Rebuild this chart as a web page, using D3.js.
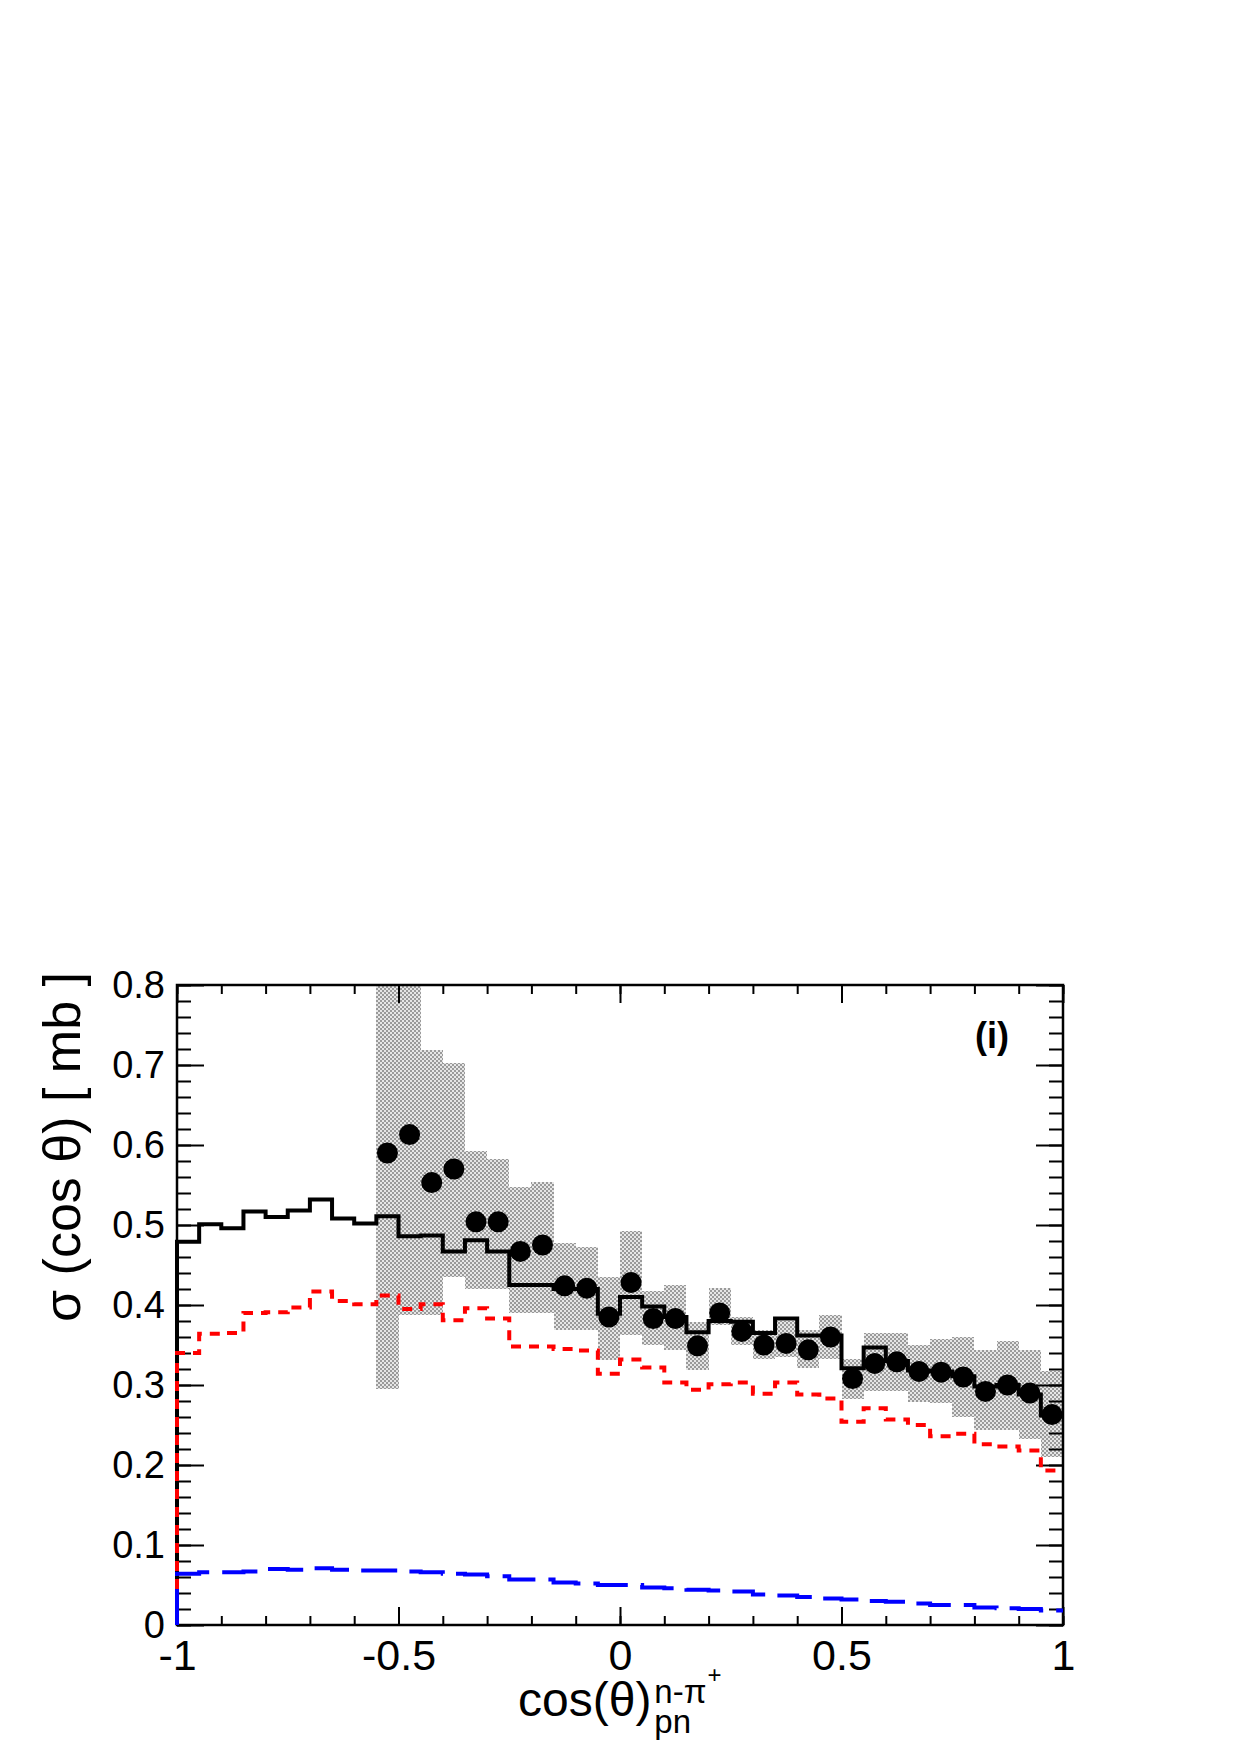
<!DOCTYPE html>
<html>
<head>
<meta charset="utf-8">
<title>cos theta pn</title>
<style>
    body { margin: 0; background: #fff; }
    text { font-family: "Liberation Sans", Arial, Helvetica, sans-serif; fill: #000; }
</style>
</head>
<body>
<svg width="1240" height="1755"></svg>
<script src="https://cdn.jsdelivr.net/npm/d3@7"></script>
<script>

// 40 bins of 0.05 between -1 and 1
var binEdges = [-1, -0.95, -0.9, -0.85, -0.8, -0.75, -0.7, -0.65, -0.6, -0.55,
    -0.5, -0.45, -0.4, -0.35, -0.3, -0.25, -0.2, -0.15, -0.1, -0.05,
    0, 0.05, 0.1, 0.15, 0.2, 0.25, 0.3, 0.35, 0.4, 0.45,
    0.5, 0.55, 0.6, 0.65, 0.7, 0.75, 0.8, 0.85, 0.9, 0.95, 1];

// black solid histogram (total)
var totalModel = [0.479, 0.501, 0.496, 0.517, 0.510, 0.518, 0.532, 0.508, 0.502, 0.511,
    0.486, 0.487, 0.467, 0.481, 0.467, 0.425, 0.425, 0.420, 0.420, 0.389,
    0.410, 0.398, 0.385, 0.366, 0.380, 0.379, 0.365, 0.383, 0.362, 0.362,
    0.321, 0.347, 0.330, 0.318, 0.317, 0.311, 0.298, 0.300, 0.288, 0.262];

// red short dashed histogram
var redModel = [0.340, 0.364, 0.365, 0.390, 0.391, 0.397, 0.417, 0.405, 0.401, 0.412,
    0.395, 0.401, 0.381, 0.396, 0.383, 0.348, 0.348, 0.345, 0.343, 0.314,
    0.332, 0.322, 0.303, 0.294, 0.301, 0.303, 0.289, 0.303, 0.288, 0.283,
    0.254, 0.271, 0.257, 0.250, 0.236, 0.239, 0.226, 0.223, 0.218, 0.193];

// blue long dashed histogram
var blueModel = [0.064, 0.066, 0.066, 0.067, 0.070, 0.069, 0.071, 0.069, 0.068, 0.068,
    0.067, 0.066, 0.064, 0.063, 0.061, 0.057, 0.057, 0.053, 0.052, 0.050,
    0.050, 0.047, 0.046, 0.044, 0.043, 0.042, 0.038, 0.037, 0.035, 0.033,
    0.032, 0.030, 0.029, 0.027, 0.025, 0.025, 0.022, 0.021, 0.020, 0.018];

// measured points: bin centres and values
var dataX = [-0.525, -0.475, -0.425, -0.375, -0.325, -0.275, -0.225, -0.175, -0.125, -0.075,
    -0.025, 0.025, 0.075, 0.125, 0.175, 0.225, 0.275, 0.325, 0.375, 0.425,
    0.475, 0.525, 0.575, 0.625, 0.675, 0.725, 0.775, 0.825, 0.875, 0.925, 0.975];
var dataY = [0.590, 0.613, 0.553, 0.570, 0.504, 0.504, 0.467, 0.475, 0.424, 0.421,
    0.385, 0.428, 0.383, 0.383, 0.349, 0.390, 0.367, 0.350, 0.352, 0.344,
    0.360, 0.308, 0.327, 0.329, 0.317, 0.316, 0.310, 0.292, 0.300, 0.290, 0.263];

// systematic band (same bins as the points)
var bandHigh = [0.850, 0.850, 0.719, 0.703, 0.592, 0.583, 0.548, 0.554, 0.477, 0.473,
    0.435, 0.492, 0.417, 0.425, 0.379, 0.421, 0.385, 0.369, 0.380, 0.369,
    0.388, 0.333, 0.365, 0.365, 0.350, 0.358, 0.360, 0.344, 0.355, 0.344, 0.317];
var bandLow = [0.295, 0.387, 0.387, 0.435, 0.420, 0.420, 0.390, 0.390, 0.369, 0.369,
    0.331, 0.363, 0.350, 0.344, 0.319, 0.375, 0.350, 0.333, 0.335, 0.321,
    0.333, 0.283, 0.292, 0.292, 0.279, 0.277, 0.260, 0.244, 0.244, 0.233, 0.210];

var xMajor = [-1, -0.5, 0, 0.5, 1];
var xTickLabels = ['-1', '-0.5', '0', '0.5', '1'];
var yMajor = [0, 0.1, 0.2, 0.3, 0.4, 0.5, 0.6, 0.7, 0.8];
var yTickLabels = ['0', '0.1', '0.2', '0.3', '0.4', '0.5', '0.6', '0.7', '0.8'];

var plotL = 177, plotR = 1063, plotT = 985, plotB = 1625;
var binW = 0.05;

var svg = d3.select('svg');
var x = d3.scaleLinear().domain([-1, 1]).range([plotL, plotR]);
var y = d3.scaleLinear().domain([0, 0.8]).range([plotB, plotT]);

var defs = svg.append('defs');
var pat = defs.append('pattern').attr('id', 'checker')
    .attr('width', 4).attr('height', 4).attr('patternUnits', 'userSpaceOnUse');
pat.append('rect').attr('width', 4).attr('height', 4).attr('fill', '#e6e6e6');
pat.append('rect').attr('width', 2).attr('height', 2).attr('fill', '#9a9a9a');
pat.append('rect').attr('x', 2).attr('y', 2).attr('width', 2).attr('height', 2).attr('fill', '#9a9a9a');

defs.append('clipPath').attr('id', 'plotclip')
    .append('rect').attr('x', plotL).attr('y', plotT)
    .attr('width', plotR - plotL).attr('height', plotB - plotT);

// band (clipped to the frame)
svg.append('g').attr('clip-path', 'url(#plotclip)')
    .selectAll('rect.band').data(dataX).enter().append('rect')
    .attr('class', 'band')
    .attr('x', function(d) { return x(d - binW / 2); })
    .attr('width', function(d) { return x(d + binW / 2) - x(d - binW / 2); })
    .attr('y', function(d, i) { return y(bandHigh[i]); })
    .attr('height', function(d, i) { return y(bandLow[i]) - y(bandHigh[i]); })
    .attr('fill', 'url(#checker)')
    .attr('shape-rendering', 'crispEdges');

// axes
function styleAxis(g) {
    g.select('.domain').remove();
    g.selectAll('.tick line').attr('stroke', '#000').attr('stroke-width', 2);
}

svg.append('g').attr('transform', 'translate(0,' + plotB + ')')
    .call(d3.axisBottom(x).ticks(20).tickSize(-9).tickFormat(''))
    .call(styleAxis);
svg.append('g').attr('transform', 'translate(0,' + plotB + ')')
    .call(d3.axisBottom(x).tickValues(xMajor).tickSize(-18).tickPadding(14)
        .tickFormat(function(d, i) { return xTickLabels[i]; }))
    .call(styleAxis)
    .selectAll('text').attr('font-size', 43)
    .style('font-family', '"Liberation Sans", Arial, sans-serif');

svg.append('g').attr('transform', 'translate(0,' + plotT + ')')
    .call(d3.axisTop(x).ticks(20).tickSize(-9).tickFormat(''))
    .call(styleAxis);
svg.append('g').attr('transform', 'translate(0,' + plotT + ')')
    .call(d3.axisTop(x).tickValues(xMajor).tickSize(-18).tickFormat(''))
    .call(styleAxis);

svg.append('g').attr('transform', 'translate(' + plotL + ',0)')
    .call(d3.axisLeft(y).ticks(40).tickSize(-14).tickFormat(''))
    .call(styleAxis);
svg.append('g').attr('transform', 'translate(' + plotL + ',0)')
    .call(d3.axisLeft(y).tickValues(yMajor).tickSize(-27).tickPadding(12)
        .tickFormat(function(d, i) { return yTickLabels[i]; }))
    .call(styleAxis)
    .selectAll('text').attr('font-size', 38)
    .style('font-family', '"Liberation Sans", Arial, sans-serif');

svg.append('g').attr('transform', 'translate(' + plotR + ',0)')
    .call(d3.axisRight(y).ticks(40).tickSize(-14).tickFormat(''))
    .call(styleAxis);
svg.append('g').attr('transform', 'translate(' + plotR + ',0)')
    .call(d3.axisRight(y).tickValues(yMajor).tickSize(-27).tickFormat(''))
    .call(styleAxis);

// frame
svg.append('rect')
    .attr('x', plotL).attr('y', plotT)
    .attr('width', plotR - plotL).attr('height', plotB - plotT)
    .attr('fill', 'none').attr('stroke', '#000').attr('stroke-width', 2.5);

// step histogram path, starting from zero at the left edge
function stepPoints(vals) {
    var pts = [[binEdges[0], 0]];
    vals.forEach(function(v, i) {
        pts.push([binEdges[i], v]);
        pts.push([binEdges[i + 1], v]);
    });
    return pts;
}
var line = d3.line()
    .x(function(d) { return x(d[0]); })
    .y(function(d) { return y(d[1]); });

var hists = svg.append('g');

hists.append('path').datum(stepPoints(totalModel))
    .attr('d', line).attr('fill', 'none')
    .attr('stroke', '#000').attr('stroke-width', 4);

hists.append('path').datum(stepPoints(redModel))
    .attr('d', line).attr('fill', 'none')
    .attr('stroke', '#ff0000').attr('stroke-width', 4)
    .attr('stroke-dasharray', '10,8');

hists.append('path').datum(stepPoints(blueModel))
    .attr('d', line).attr('fill', 'none')
    .attr('stroke', '#0000ff').attr('stroke-width', 4)
    .attr('stroke-dasharray', '36,13');

// points
svg.append('g').selectAll('circle.pt').data(dataX).enter().append('circle')
    .attr('class', 'pt')
    .attr('cx', function(d) { return x(d); })
    .attr('cy', function(d, i) { return y(dataY[i]); })
    .attr('r', 10.5)
    .attr('fill', '#000');

// panel label
svg.append('text').attr('x', 975).attr('y', 1048)
    .attr('font-size', 36).attr('font-weight', 'bold')
    .text('(i)');

// y title
svg.append('text')
    .attr('transform', 'translate(80,1147) rotate(-90)')
    .attr('text-anchor', 'middle')
    .attr('font-size', 52)
    .text('σ (cos θ) [ mb ]');

// x title with super/subscripts
var xt = svg.append('text').attr('x', 518).attr('y', 1716)
    .attr('font-size', 48).text('cos(θ)');
var xw = xt.node().getComputedTextLength();
var sx = 518 + xw + 3;
var sup = svg.append('text').attr('x', sx).attr('y', 1703)
    .attr('font-size', 33).text('n-π');
var sw = sup.node().getComputedTextLength();
svg.append('text').attr('x', sx + sw + 1).attr('y', 1683)
    .attr('font-size', 24).text('+');
svg.append('text').attr('x', sx).attr('y', 1733)
    .attr('font-size', 33).text('pn');

</script>
</body>
</html>
